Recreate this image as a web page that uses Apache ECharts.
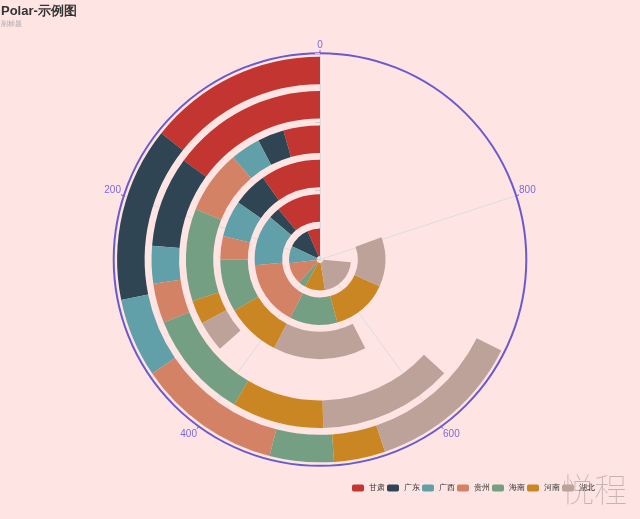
<!DOCTYPE html>
<html>
<head>
<meta charset="utf-8">
<title>Polar-示例图</title>
<script src="https://cdn.jsdelivr.net/npm/echarts@6/dist/echarts.min.js"></script>
<style>
    html, body { margin: 0; padding: 0; background: #ffe4e4; }
    #main { width: 640px; height: 519px; }
</style>
</head>
<body>
<div id="main"></div>
<script>
// 径向类目
const radiusCats = ['类目1', '类目2', '类目3', '类目4', '类目5', '类目6'];
const angleTicks = [0, 200, 400, 600, 800];

// 各省数据 (由内到外)
const gansu     = [66, 110, 97, 44, 150, 143];
const guangdong = [114, 28, 56, 32, 87, 139];
const guangxi   = [89, 126, 59, 36, 36, 63];
const guizhou   = [114, 161, 38, 77, 38, 115];
const hainan    = [37, 118, 86, 111, 104, 51];
const henan     = [106, 140, 88, 29, 88, 41];
const hubei     = [210, 122, 151, 37, 129, 124];

const seriesNames = ['甘肃', '广东', '广西', '贵州', '海南', '河南', '湖北'];
const seriesData = [gansu, guangdong, guangxi, guizhou, hainan, henan, hubei];
const colors = ['#c23531', '#2f4554', '#61a0a8', '#d48265', '#749f83', '#ca8622', '#bda29a'];

const chart = echarts.init(document.getElementById('main'));

let series = seriesNames.map(function (name, i) {
    return {
        name: name,
        type: 'bar',
        coordinateSystem: 'polar',
        stack: 'total',
        data: seriesData[i]
    };
});

const option = {
    backgroundColor: '#ffe4e4',
    color: colors,
    animation: false,
    title: {
        text: 'Polar-示例图',
        subtext: '副标题',
        left: 0,
        top: 3,
        padding: [2, 1],
        itemGap: 3,
        textStyle: {fontSize: 13, fontWeight: 'bold', color: '#333'},
        subtextStyle: {fontSize: 7, color: '#aaa'}
    },
    legend: {
        data: seriesNames,
        right: 40,
        bottom: 22,
        itemWidth: 12,
        itemHeight: 7,
        itemGap: 2,
        textStyle: {fontSize: 8, color: '#333'}
    },
    polar: {
        center: ['50%', '50%'],
        radius: '79.5%'
    },
    angleAxis: {
        type: 'value',
        min: 0,
        max: 1000,
        interval: 200,
        startAngle: 90,
        clockwise: false,
        axisLine: {lineStyle: {color: '#6a5acd', width: 2}},
        axisTick: {show: true, length: 3, lineStyle: {color: '#6a5acd'}},
        axisLabel: {
            color: '#7b6bd8',
            fontSize: 10,
            margin: 3,
            formatter: function (v) {
                return angleTicks.indexOf(v) >= 0 ? v : '';
            }
        },
        splitLine: {show: true, lineStyle: {color: '#ddd', width: 1}}
    },
    radiusAxis: {
        type: 'category',
        data: radiusCats,
        axisLine: {show: true, lineStyle: {color: '#ddd'}},
        axisTick: {show: true, lineStyle: {color: '#ccc'}},
        axisLabel: {show: false},
        splitLine: {show: false}
    },
    graphic: [{
        type: 'text',
        right: 13,
        bottom: 13,
        style: {
            text: '悦程',
            fontSize: 33,
            fontFamily: 'Noto Sans CJK SC',
            fontWeight: 'lighter',
            fill: 'rgba(0,0,0,0.22)'
        }
    }],
    series: series
};

chart.setOption(option);
</script>
</body>
</html>
